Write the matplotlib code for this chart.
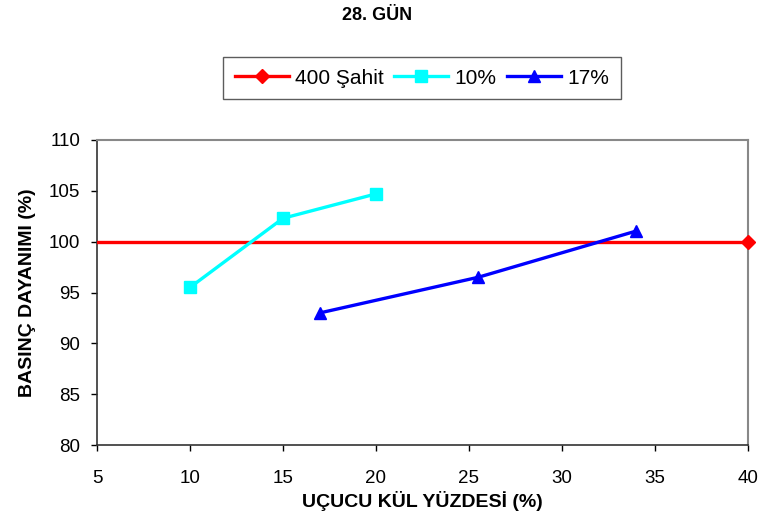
import matplotlib
matplotlib.use("Agg")
import matplotlib.pyplot as plt
from matplotlib.lines import Line2D

plt.rcParams['font.family'] = ['Liberation Sans', 'DejaVu Sans']

title = "28. GÜN"
xlabel = "UÇUCU KÜL YÜZDESİ (%)"
ylabel = "BASINÇ DAYANIMI (%)"

ref_label = "400 Şahit"
ref_x = [0, 40]
ref_y = [100, 100]

s10_label = "10%"
s10_x = [10, 15, 20]
s10_y = [95.5, 102.3, 104.7]

s17_label = "17%"
s17_x = [17, 25.5, 34]
s17_y = [93.0, 96.5, 101.05]

xticks = [5, 10, 15, 20, 25, 30, 35, 40]
yticks = [80, 85, 90, 95, 100, 105, 110]

fig = plt.figure(figsize=(7.63, 5.20), dpi=100)
ax = fig.add_axes([97/763, 1-445/520, (748-97)/763, (445-140)/520])

lw = 2.4
ax.plot(ref_x, ref_y, color='#ff0000', lw=lw, zorder=3)
ax.plot(ref_x, ref_y, color='#ff0000', lw=0, marker='D', ms=7, markevery=[1], clip_on=False, zorder=4)
ax.plot(s10_x, s10_y, color='#00ffff', lw=lw, marker='s', ms=8, zorder=3)
ax.plot(s17_x, s17_y, color='#0000ff', lw=lw, marker='^', ms=9, zorder=3)

handles = [Line2D([], [], color='#ff0000', lw=lw, marker='D', ms=7),
           Line2D([], [], color='#00ffff', lw=lw, marker='s', ms=8),
           Line2D([], [], color='#0000ff', lw=lw, marker='^', ms=9)]
leg = fig.legend(handles, [ref_label, s10_label, s17_label], loc='center',
                 bbox_to_anchor=(422/763, 1-78/520), ncol=3, fontsize=15,
                 frameon=True, fancybox=False, edgecolor='#333333',
                 handlelength=2.6, columnspacing=0.5, handletextpad=0.3,
                 borderpad=0.55, borderaxespad=0)
leg.get_frame().set_linewidth(1.0)

ax.set_xlim(5, 40)
ax.set_ylim(80, 110)
ax.set_xticks(xticks)
ax.set_yticks(yticks)
ax.tick_params(axis='both', labelsize=13.5, direction='out', length=4, width=1)
ax.tick_params(axis='x', pad=14)
ax.tick_params(axis='y', pad=8)
for s in ['top', 'right']:
    ax.spines[s].set_color('#888888')
    ax.spines[s].set_linewidth(1.5)
for s in ['left', 'bottom']:
    ax.spines[s].set_color('#333333')
    ax.spines[s].set_linewidth(1.2)

ax.set_xlabel(xlabel, fontsize=14, fontweight='bold', labelpad=3)
ax.set_ylabel(ylabel, fontsize=14, fontweight='bold', labelpad=9)
fig.text(377/763, 1-16/520, title, ha='center', va='center', fontsize=13, fontweight='bold')

fig.savefig("out.png", dpi=100)
